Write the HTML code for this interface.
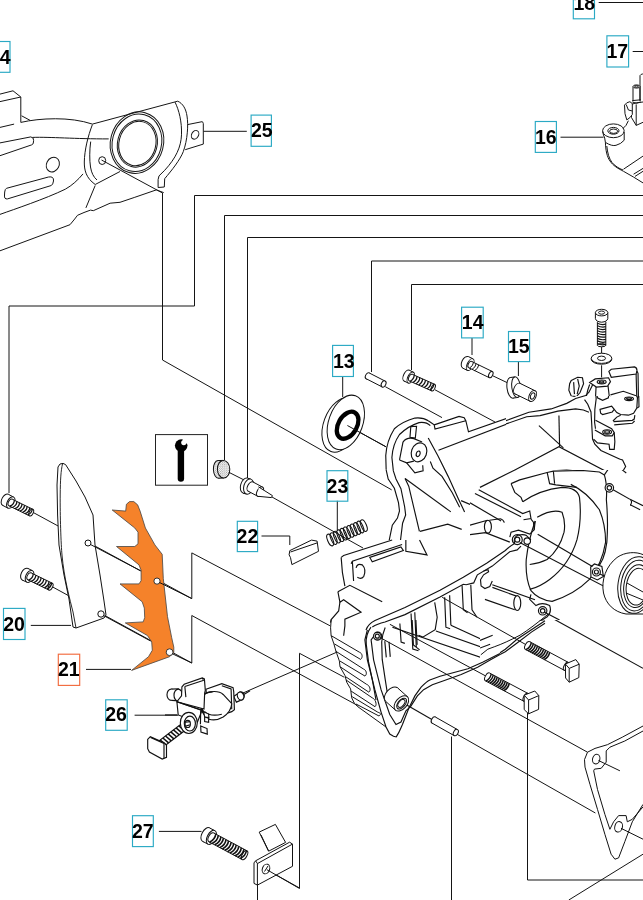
<!DOCTYPE html>
<html><head><meta charset="utf-8">
<style>
html,body{margin:0;padding:0;background:#fff;width:643px;height:900px;overflow:hidden}
svg{display:block;position:absolute;left:0;top:0}
.l{fill:none;stroke:#151515;stroke-width:1}
.t{font-family:"Liberation Sans",sans-serif;font-weight:bold;font-size:19.5px;fill:#000}
.bx{fill:none;stroke:#2aa9c4;stroke-width:1.15}
.bo{fill:none;stroke:#f26b3e;stroke-width:1.15}
.p{fill:#fff;stroke:#111;stroke-width:1;vector-effect:non-scaling-stroke}
.q{fill:none;stroke:#111;stroke-width:1.15}
.q *{vector-effect:non-scaling-stroke}
</style></head>
<body>
<svg width="643" height="900" viewBox="0 0 643 900">
<rect width="643" height="900" fill="#fff"/>
<defs>
 <pattern id="knurl" width="2.2" height="2.2" patternUnits="userSpaceOnUse"><rect width="2.2" height="2.2" fill="#fff"/><circle cx="0.6" cy="0.6" r="0.5" fill="#555"/><circle cx="1.7" cy="1.7" r="0.45" fill="#777"/></pattern>
 <clipPath id="cG1"><rect x="300" y="370" width="80" height="170"/></clipPath>
 <clipPath id="cG4"><rect x="480" y="620" width="163" height="60"/><rect x="630" y="533" width="13" height="87"/></clipPath>
 <clipPath id="cK"><rect x="470" y="470" width="160" height="150"/></clipPath>
 <clipPath id="cBR"><rect x="560" y="355" width="83" height="41"/></clipPath>
 <clipPath id="cBR2"><rect x="560" y="396" width="83" height="79"/></clipPath>
 <clipPath id="cJ"><rect x="340" y="555" width="140" height="145"/></clipPath>
 <clipPath id="cH1"><rect x="380" y="370" width="90" height="170"/><rect x="470" y="370" width="36" height="100"/></clipPath>
 <clipPath id="cH2"><rect x="506" y="360" width="137" height="110"/><rect x="630" y="470" width="13" height="63"/></clipPath>
</defs>


<!-- ============ LEADER LINES (global) ============ -->
<g class="l" id="leaders">
  <path d="M9,493V306H194.5V195.5H643"/>
  <path d="M224.5,460V215.5H643"/>
  <path d="M247.5,478V237.5H643"/>
  <path d="M371.5,372V261H643"/>
  <path d="M411.5,370V284.5H643"/>
  <path d="M101.5,160L162.5,193V360L393,490.6"/>
  <path d="M31.6,511.6L191.8,598.6V552.9L331.4,626.5"/>
  <path d="M51.6,586.4L191.8,663V615.5L358.4,705.9"/>
  <path d="M243,693L377.2,634.6"/>
  <path d="M266.6,869.6L299.5,888V653.3L400,707"/>
  <path d="M432,720L595.4,813"/>
  <path d="M228.3,472L243.3,479.6M272,497L363,548"/>
  <path d="M347.4,425.5L386.9,447.3"/>
  <path d="M385.3,386.7L442,417.6"/>
  <path d="M435,389.8L495,422"/>
  <path d="M492.8,375.8L507.5,382.8"/>
  <!-- label leaders -->
  <path d="M203.5,131.3H246.8"/>
  <path d="M598.7,2.5H643"/>
  <path d="M632.7,51.5H643"/>
  <path d="M560.5,137.2H603.5"/>
  <path d="M472,338V355"/>
  <path d="M518.4,362V376"/>
  <path d="M342.7,376.4V397"/>
  <path d="M337.3,500.8V530"/>
  <path d="M261.5,536H289.8V545"/>
  <path d="M30.8,625.4H71"/>
  <path d="M86,669.4H131"/>
  <path d="M134.6,715.2H178.2"/>
  <path d="M158.9,831.4H201.5"/>
  <path d="M527.5,713V880H643"/>
  <path d="M451.5,736.5V900"/>
  <path d="M568.8,900L643,854.2"/>
  <path d="M257.5,884.6V900"/>
</g>

<!-- ============ PART 24/25 plate ============ -->
<g class="l" id="p24">
  <path d="M0,94.1L13,90.8L20.8,97L0,101.6M20.8,97V122.4M21.6,115.8L30,120.3M0,127.4L14.1,124.1"/>
  <path d="M20.8,122.4C40,118 70,116.5 92.4,124.1L177.7,101.2"/>
  <path d="M32.5,137.4C50,136.8 75,139 108.7,138.9"/>
  <path d="M0,142.9L30.8,136.9Q34,137.5 33.6,140.5L33.3,143Q33,144.5 31.6,144.9L0,155.7"/>
  <ellipse cx="52.8" cy="164.6" rx="6.3" ry="7.6" transform="rotate(28 52.8 164.6)"/>
  <path d="M6.5,188.3L48.5,177Q54,176 53.5,181Q53,184.5 51.3,185.5L7.5,198.9Q4,199.5 4.5,195L4.7,192Q5,189 6.5,188.3Z"/>
  <path d="M0,214.4C15,209 45,199 65.3,189.2C72,185.5 78,180 83,173.9"/>
  <path d="M92.4,124.6C88,136 84.5,150 84.3,162C84.2,170 86,178 95.2,184.5"/>
  <path d="M90.7,141.6C89.5,150 89.4,160 90.5,167C91.5,173 93.5,177 97,180"/>
  <path d="M95.2,184.5L120,171.5M95.2,185.5L85.9,207.9"/>
  <path d="M0,250.8L70,224.7L74.7,219L77.5,215.3L84,212.5L90.5,210.1L93.3,210.7L110.1,203.2L120,202.3L134.8,197.3L156.3,189.9L163.7,192.6"/>
  <path d="M177.7,101.2C183,103.5 186,109 187,116C188.5,125 187.5,140 183.3,151.6C180,160 172,170 164.7,178.7L164.3,187L158.1,187.5L158.1,179.6"/>
  <path d="M175,102.1C179,110 182,122 181.5,134.8C181,147 176,158 164.7,170.3L159,175.9L158.1,179.6"/>
  <path d="M188,124.5L202,121.7Q203.3,122 203.3,123.6L203.3,144.1L185.2,149.7"/>
  <ellipse cx="195.1" cy="134.8" rx="3.4" ry="4.6" transform="rotate(30 195.1 134.8)"/>
  <g transform="rotate(15 137 142.6)">
    <ellipse cx="137" cy="142.6" rx="26.5" ry="31"/>
    <ellipse cx="137" cy="142.8" rx="24.6" ry="29"/>
    <ellipse cx="137.6" cy="143.4" rx="19.8" ry="23.8"/>
    <ellipse cx="137.6" cy="143.4" rx="18.4" ry="22.4"/>
  </g>
  <ellipse cx="102.2" cy="160.6" rx="3.5" ry="3.9"/>
</g>

<!-- ============ PART 16/17 top right ============ -->
<g class="l" id="p16">
  <path d="M640,101V75.6Q641,74 642.5,74L643,74"/>
  <path d="M633,86.5V101.2M640,86.5V100.5" />
  <ellipse cx="636.5" cy="86.5" rx="3.4" ry="1.6" fill="#fff"/>
  <ellipse cx="636.5" cy="86.4" rx="1.6" ry="0.8"/>
  <path d="M632.3,100.6L640.8,99.8M632.3,102Q636.5,104.6 640.8,102"/>
  <path d="M631.5,104.4L636.2,102.8L643,102M631.5,104.4V117.6L636.2,125.4L643,122.3M636.2,104.4V125.4"/>
  <path d="M624.5,105.1L626.8,102.8L629.9,101.7L632.3,103.6L632.3,114.5L629.9,117.6L626.8,119.9L625,113.7Z" fill="#fff"/>
  <path d="M626.2,104.5L628.4,110L632.3,111"/>
  <path d="M622.9,128.5L626,125.4L628.4,120.7"/>
  <ellipse cx="613.4" cy="130.8" rx="10.8" ry="6.9"/>
  <ellipse cx="613.4" cy="130.8" rx="5.6" ry="3.4"/>
  <ellipse cx="613.6" cy="131.2" rx="4" ry="2.2"/>
  <path d="M602.6,131.5L603.5,135L604.7,138.1L605.4,142.4Q612,146.5 616,145.3Q621,144 624.2,140.2L624.2,132"/>
  <path d="M605.4,142.4C605.6,150 607,157 610,161C613,165.5 617,168 623.5,171.3L633.6,177.1L643,182.9"/>
  <path d="M606.8,146C607.5,153 609,158.5 612,162.5C615,166 619,168.5 623,170"/>
  <path d="M623.5,169.2L643,156.1M633.6,174.2L643,168.4M635,176.4L643,171.3"/>
</g>

<!-- ============ SEAL 13 ============ -->
<g id="p13" stroke="#111" stroke-width="1" fill="#fff">
  <ellipse cx="340.6" cy="425" rx="17" ry="28.3" transform="rotate(20 340.6 425)"/>
  <ellipse cx="345.8" cy="422.4" rx="17" ry="28.3" transform="rotate(20 345.8 422.4)"/>
  <ellipse cx="347.6" cy="425.2" rx="9.3" ry="14.6" transform="rotate(30 347.6 425.2)" fill="none" stroke="#000" stroke-width="4.3"/>
  <path d="M347.4,425.5L386.9,447.3" fill="none"/>
</g>

<!-- ============ CRANKCASE SILHOUETTE ============ -->
<path id="sil" fill="#fff" stroke="none" d="M386.7,462L386,445L390,432L398,424L408,418.5L420,416L428,416.5L433,422L434.5,429L448,417.5L453,415.2L464,417L466.3,420.2L468.6,433L483,426.7L524,412.2L567.6,404.8L581.3,397.3L581.3,380L590,375L600,372L600,380L610,400L622,461L624,473L611.5,490.7L606,510L601,561L591,581L556,606L546,616L531,631L500,652.3L479.3,664.8L464.4,671L444.5,677.2L429.6,683.4L419.6,692.2L412.2,705.8L405.9,722L399.7,734.5L393.5,735.7L389.8,734L386,727L358,706L352.3,700L349.9,689.3L344.9,679.3L339.9,664.4L334.9,644.5L331.2,634.6L329.9,625.8L331.2,619.5L338.7,610.9L339.9,602.1L337.9,591.7L344.9,586L341.1,557.4L343.6,555.4L392.2,540L394.6,540L392.5,494.5Z"/>

<!-- ============ CRANKCASE G1 (320,380) 4x ============ -->
<g clip-path="url(#cG1)"><g transform="translate(320,380) scale(0.248834)">
 <g class="q">
  <path d="M300,643C305,580 312,520 300,460C290,420 270,380 268,330C266,280 268,240 285,205C305,175 340,158 375,148C400,144 425,146 440,160L452,180L460,199"/>
  <path d="M452,178L520,150Q545,140 575,146L590,160L598,215L643,198"/>
  <path d="M460,199L566,158L590,160"/>
  <path d="M478,283L643,224"/>
  <path d="M297,374C292,340 294,290 304,249C315,220 340,198 354,193C370,185 400,177 422,177L435,187"/>
  <path d="M392,257L345,240Q325,240 322,262L320,320Q322,340 345,345L385,330"/>
  <ellipse cx="399" cy="293" rx="28" ry="37" transform="rotate(20 399 293)" fill="#fff"/>
  <ellipse cx="399" cy="293" rx="7" ry="11" transform="rotate(20 399 293)"/>
  <path d="M429,234L479,330L535,424L572,482L610,545L643,600"/>
  <path d="M435,262L480,345L530,440L575,520L615,590L640,643"/>
  <path d="M345,395L365,470L380,560L400,643"/>
  <path d="M320,390L345,395"/>
  <path d="M357,194Q368,185 385,188L383,240"/>
  <path d="M300,643L303,600"/>
 </g>
</g></g>





<!-- ============ CRANKCASE H1 (380,400) 4.871x ============ -->
<g clip-path="url(#cH1)"><g transform="translate(380,400) scale(0.2053)">
 <g class="q">
  <path d="M30,340L28,270Q32,200 70,140Q110,105 170,88Q210,84 235,101"/>
  <path d="M65,345L58,280Q62,215 95,168Q135,128 190,110Q225,105 245,125"/>
  <path d="M235,101L264,121L268,142L418,101M264,121L385,80L410,86L418,101L431,155L643,80"/>
  <path d="M285,245L643,108"/>
  <path d="M30,340L40,385L70,430L90,500L95,540L85,575L60,610L45,682"/>
  <path d="M65,345L78,385L102,432L120,520L125,560L110,600L100,682"/>
  <path d="M150,130L178,128L172,186L146,182Z"/>
  <path d="M95,292L112,205Q130,180 165,188L205,205"/>
  <path d="M95,292L130,306L165,298"/>
  <path d="M130,306L170,355L210,345L208,318"/>
  <ellipse cx="190" cy="255" rx="37" ry="47" transform="rotate(20 190 255)" fill="#fff"/>
  <ellipse cx="186" cy="262" rx="9" ry="14" transform="rotate(20 186 262)"/>
  <path d="M235,185L282,272L332,372L382,482L412,545"/>
  <path d="M245,300L258,332L302,372L352,452L388,522"/>
  <path d="M122,382L345,545"/>
  <path d="M122,382L140,420L192,640"/>
  <path d="M195,640L330,605L398,630"/>
  <path d="M395,490L560,560L643,595"/>
  <path d="M460,458L643,345"/>
  <path d="M485,430L643,345"/>
  <path d="M470,462L600,520L643,532"/>
  <path d="M520,640L545,592L590,580L643,600"/>
  <path d="M540,600Q560,640 540,682"/>
 </g>
</g></g>

<!-- ============ CRANKCASE H2 (500,370) 4.4965x ============ -->
<g clip-path="url(#cH2)"><g transform="translate(500,370) scale(0.2224)">
 <g class="q">
  <path d="M0,238L130,190L230,175L300,150L340,128L385,115L400,100L415,70L420,50"/>
  <path d="M0,252L120,210L180,205L260,185L340,175L375,180L400,190"/>
  <path d="M265,205L268,345"/>
  <path d="M175,250L285,350"/>
  <path d="M0,485L265,345L475,455L490,477L554,452L565,434L551,405L540,401"/>
  <path d="M45,520L110,480L210,455L300,450L440,462L445,525"/>
  <path d="M210,455L222,502L245,520M245,455L245,512"/>
  <path d="M45,520L60,545L100,560L110,600L100,640"/>
  <path d="M0,600L130,640L140,662L100,672"/>
  <path d="M245,520Q310,515 335,530"/>
  <path d="M420,500Q465,560 480,640L485,764"/>
  <path d="M320,520Q352,580 360,650L355,764"/>
  <path d="M310,520Q250,510 150,550L100,580"/>
  <path d="M170,640Q230,615 280,640Q295,690 280,764"/>
  <circle cx="490" cy="530" r="19" fill="#fff"/>
  <circle cx="490" cy="530" r="10"/>
  <path d="M505,540L580,585"/>
  <path d="M582,580L643,610M570,598L630,628"/>
  <ellipse cx="578" cy="598" rx="12" ry="17" transform="rotate(30 578 598)" fill="#fff"/>
 </g>
</g></g>

<!-- ============ BRACKET (top right) ============ -->
<g clip-path="url(#cBR)"><g transform="translate(540,290) scale(0.160179)">
 <g class="q">
  <path d="M430,508L445,495L590,480Q607,485 605,505L600,525L445,545Z" fill="#fff"/>
  <path d="M600,525L605,700M605,505L612,520L615,700"/>
  <path d="M310,578L345,555L428,548L440,572L422,600L352,606Z" fill="#fff"/>
  <ellipse cx="385" cy="574" rx="28" ry="12" fill="#fff"/>
  <ellipse cx="385" cy="574" rx="15" ry="6"/>
  <path d="M350,606L345,700M425,600L432,660L440,700M310,590Q290,640 285,700"/>
  <path d="M195,565L235,545L265,548L272,585L250,640L228,665L195,662L180,625L185,585Z" fill="#fff"/>
  <path d="M210,575L215,650M235,555L245,600L232,650"/>
  <path d="M440,655L520,632L600,660"/>
 </g>
</g></g>
<g clip-path="url(#cBR2)"><g transform="translate(560,390) scale(0.129082)">
 <g class="q">
  <path d="M190,75L215,110L240,170L245,250L252,380L270,420L317,468L465,536"/>
  <path d="M275,0L280,70L270,150L268,250L275,300"/>
  <path d="M275,235L400,300L420,330L405,355L350,355L270,310"/>
  <ellipse cx="365" cy="325" rx="34" ry="17"/>
  <ellipse cx="365" cy="325" rx="19" ry="9"/>
  <path d="M260,380L290,410L380,420L385,460L420,460L425,400L420,330"/>
  <path d="M385,45L500,15L590,40L600,60L595,140L570,180L530,195L470,190L440,175L420,150" fill="#fff"/>
  <ellipse cx="535" cy="68" rx="34" ry="14"/>
  <ellipse cx="535" cy="68" rx="19" ry="7"/>
  <path d="M600,60L610,40L612,130L598,140"/>
  <path d="M410,240L440,210L470,195M415,245L560,235L575,225L580,195M420,270L560,258L578,240"/>
  <path d="M310,150L400,125L420,150L405,170L330,190L315,180Z" fill="#fff"/>
  <path d="M280,0L290,60L330,80L375,60L380,0"/>
  <path d="M65,0L75,40L110,50L150,30L160,0M110,0L115,45"/>
 </g>
</g></g>

<!-- ============ CRANKCASE G3 (320,540) 4x ============ -->
<g transform="translate(320,540) scale(0.248834)">
 <g class="q">
  <path d="M85,70L95,62L290,0"/>
  <path d="M85,70L90,130L100,185"/>
  <path d="M125,95L130,85L330,18M130,85L135,165"/>
  <path d="M200,70L325,28L335,42L210,88Z"/>
  <path d="M145,112Q150,92 170,100Q187,118 176,146Q166,160 150,150"/>
  <path d="M345,0L345,45L430,60L400,0"/>
  <path d="M72,208L120,182L250,248"/>
  <path d="M72,208L80,250L95,240L165,290L100,318L100,345L95,385"/>
  <path d="M80,250L75,285L45,320L42,332"/>
  <path d="M205,350Q182,380 186,420L195,490L210,560L225,643"/>
  <path d="M262,352Q250,380 248,410L250,480L262,560L275,643"/>
  <circle cx="232" cy="386" r="16" fill="#fff"/>
  <circle cx="232" cy="386" r="8"/>
 </g>
</g>

<!-- ============ CRANKCASE J (370,560) 4.019x ============ -->
<g clip-path="url(#cJ)"><g transform="translate(370,560) scale(0.248834)">
 <g class="q">
  <path d="M120,255L125,330L140,335M165,215L172,358L195,365M180,210L186,350"/>
  <path d="M260,170L270,230L262,280L212,310L195,302"/>
  <path d="M300,150L305,270L322,276M320,142L325,262"/>
  <path d="M370,102L375,200L392,212M405,100L410,200L430,230"/>
  <path d="M90,270L465,398M265,285L480,362M325,262L505,345"/>
 </g>
</g></g>

<!-- ============ CRANKCASE K (470,460) 4.019x ============ -->
<g clip-path="url(#cK)"><g transform="translate(470,460) scale(0.248834)">
 <g class="q">
  <path d="M40,110L245,8"/>
  <path d="M35,120L212,215L240,205L245,235L215,240"/>
  <path d="M20,135L205,228"/>
  <path d="M0,172L125,245"/>
  <path d="M78,242L122,236Q135,240 138,252"/>
  <ellipse cx="72" cy="268" rx="14" ry="26" fill="#fff"/>
  <path d="M0,262L70,242M0,300L62,292L160,330"/>
  <path d="M160,310L165,290L195,282L240,298L258,280L255,250L245,238"/>
  <path d="M165,95L200,80L310,50L335,45L450,42L520,48L540,60"/>
  <path d="M165,95L180,130L205,150L212,168"/>
  <path d="M310,50L320,95L345,100M335,45L340,95M345,100L430,110"/>
  <path d="M540,60L560,30L600,18L612,40L628,52"/>
  <path d="M212,168Q280,120 370,110Q430,110 440,150Q450,240 430,320Q400,420 320,480Q280,510 240,520"/>
  <path d="M270,230Q330,195 370,210Q385,250 378,290Q360,360 310,400Q280,415 240,420"/>
  <path d="M405,98Q470,128 520,200Q545,260 545,330Q530,420 480,480Q420,540 330,568Q275,562 245,525Q222,475 226,400Q235,320 262,245"/>
  <path d="M540,60Q552,100 548,160Q556,250 550,330Q540,410 505,440"/>
  <path d="M262,245L258,280"/>
  <path d="M485,430L500,418L530,428L536,468L512,482L486,470Z" fill="#fff"/>
  <circle cx="508" cy="450" r="16" fill="#fff"/><circle cx="508" cy="450" r="8"/>
  <circle cx="560" cy="112" r="17" fill="#fff"/><circle cx="560" cy="112" r="9"/>
  <circle cx="190" cy="320" r="20" fill="#fff"/><circle cx="190" cy="320" r="10"/>
  <circle cx="230" cy="326" r="13" fill="#fff"/>
  <path d="M200,332L643,562"/>
  <path d="M272,298L492,428"/>
  <path d="M522,458L643,515"/>
  <path d="M575,120L643,158"/>
  <path d="M90,512L190,548M60,560L180,602"/>
  <ellipse cx="190" cy="575" rx="14" ry="30" fill="#fff"/>
  <path d="M245,540L240,560L265,585Q290,570 320,585Q330,610 310,630L290,643"/>
  <circle cx="292" cy="606" r="17" fill="#fff"/><circle cx="292" cy="606" r="9"/>
  <path d="M300,612L360,643"/>
 </g>
</g></g>

<!-- ============ FRAME BAR (global) ============ -->
<g id="framebar" class="l" style="stroke:#111;stroke-width:1.15">
  <path d="M366,630Q368,624 375,620.5L405,607.6L440,590.2L463.3,577.3L486.6,563.3L505.3,550.5Q510,546 514.6,543.5Q513,537 518.5,535Q524,534 526.5,535.6L530.9,540"/>
  <path d="M372.3,627Q377,624 385,622L405,614.6L440,597.1L463.3,584.3L466.2,584.7L473.7,582.9L476.8,576L477.4,574.8L492.3,566.1L509.7,551.8L517.2,549.9L521,546.2"/>
  <path d="M483.6,571L488,569.8L488.6,571.7L483.6,574.8L480.5,579.8L481.1,586L484.9,588.5L489.8,586.6L492.3,581"/>
  <path d="M492.3,584.7L535,599.7"/>
</g>

<!-- ============ CRANKCASE G4 (480,520) 3.945x ============ -->
<g clip-path="url(#cG4)"><g transform="translate(480,520) scale(0.253494)">
 <g class="q">
  <path d="M215,0L212,40Q205,60 195,75Q180,100 180,150Q182,230 210,285Q235,320 260,325Q330,310 400,260Q470,200 490,120Q500,60 498,0"/>
  <path d="M330,0Q325,70 290,120Q255,160 195,175"/>
  <path d="M390,0Q385,90 345,160Q300,220 210,255"/>
  <path d="M0,20L60,5M30,35L100,0"/>
  <path d="M120,70Q130,52 160,55Q185,60 200,75L215,55"/>
  <path d="M0,165L60,132L110,118Q125,115 140,118"/>
  <path d="M0,190L70,150L115,130"/>
  <circle cx="145" cy="85" r="19" fill="#fff"/>
  <circle cx="145" cy="85" r="10"/>
  <circle cx="183" cy="83" r="10"/>
  <path d="M0,210Q25,200 40,225Q48,255 30,268L15,268"/>
  <path d="M15,245Q30,240 28,255"/>
  <path d="M0,310L140,318L162,330L160,362L20,360"/>
  <path d="M150,318L148,358"/>
  <path d="M215,325L235,335Q275,335 285,352Q288,378 268,388L240,396Q220,388 222,365Z" fill="#fff"/>
  <circle cx="250" cy="367" r="16" fill="#fff"/>
  <circle cx="250" cy="367" r="9"/>
  <path d="M432,185Q455,170 478,178Q490,205 480,228Q465,245 445,238Q430,215 432,185Z" fill="#fff"/>
  <circle cx="456" cy="207" r="10"/>
  <path d="M95,0L455,200"/>
  <path d="M480,215L520,238"/>
  <path d="M150,92L520,285"/>
  <path d="M162,100L530,300"/>
  <path d="M262,375L643,585"/>
  <path d="M78.9,523.4L99.8,510.1L144.8,471.4L202.8,432.8L256.4,397.3"/>
  <path d="M78.9,530.3L99.8,519.5L151.5,481.3L202.8,442.2L256.4,407.1"/>
  <path d="M0,475L50,455M0,505L40,490"/>
 </g>
</g></g>

<!-- ============ FINS ============ -->
<g id="fins" class="l">
  <path d="M331.2,619.5L330.6,627.8L331.1,635.6L333.9,643.9L335.6,650L336.7,653.3L339.4,661.1L340,666.7L345,675.6L346.7,682.2L350.6,688.9L351.7,697.8L354.4,703.3L357.8,706.7L386,727"/>
  <path d="M331.1,635.6L359.4,652.2C362.4,653.2 363.1,657.4 360.6,659.4L334.4,643.9"/>
  <path d="M335.6,651.1L363.3,668.9C366.3,669.9 367.5,674.1 365,676.1L340,661.1"/>
  <path d="M340,666.7L366.7,684.4C369.7,685.4 371.4,690.2 368.9,692.2L345.6,676.7"/>
  <path d="M346.1,680L372.2,697.8C375.2,698.8 377.5,704.7 375,706.7L351.1,691.1"/>
  <path d="M352.2,696.7L377.8,712.2C380.8,713.2 381.5,714 379,716L356,704"/>
</g>

<!-- ============ CRANKCASE G5 (340,620) 4x ============ -->
<g transform="translate(340,620) scale(0.248834)">
 <g class="q">
  <path d="M110,40L100,80L110,160L140,280L165,370L185,430L200,458L215,467L226,470C240,450 245,432 251,420L276,356L301,305L326,270C340,255 350,246 361,241L402,226L514,196L573,170L619,147L643,135"/>
  <path d="M140,60L125,80L135,160L165,280L200,380L225,420L245,410L265,365L285,346L311,305L336,280L371,260L411,246L487,219L553,190L605,160L643,139"/>
  <circle cx="150" cy="65" r="15" fill="#fff"/>
  <circle cx="150" cy="65" r="8"/>
  <path d="M180,85L186,150M197,88L202,148"/>
  <path d="M290,0L295,100L320,120M305,0L310,100"/>
  <path d="M249,331L371,401"/>
 </g>
</g>

<!-- ============ RIGHT PIECE (lower right) ============ -->
<g id="rpiece" stroke="#111" stroke-width="1" fill="none">
  <path d="M379.8,637.4L587.5,752.2"/>
  <path d="M389.9,624.3L487.6,677"/>
  <path d="M442.2,597.3L527.6,645.6"/>
  <path d="M480.8,654.8L487.8,649.2L494.8,646.6Q505,643 520,635.2Q532,627.5 548,614.2"/>
  <path d="M643,726L622.3,737.2L607.4,744.7L595,748.4L587.5,752.2L584.5,759.6L585,767.1L590,784.5L597.5,809.4L604.9,834.3L611.1,854.2L614.9,859.2L618.6,857.9L624.8,841.7L632.3,821.8L643,804.4" fill="#fff"/>
  <path d="M643,731L624.8,741L609.9,747.2L606.2,750.9L606.2,762.1L601.2,768.3L594.5,769.1L593.7,770.8L597.5,789.5L604.9,814.4L609.9,829.3L613.6,821.8L618.6,815.6L626.1,815.6L627.3,821.8L632.3,819.3L643,806.9"/>
  <ellipse cx="596.2" cy="759.1" rx="3.6" ry="4.9" transform="rotate(15 596.2 759.1)"/>
  <ellipse cx="618.6" cy="826.8" rx="3.8" ry="5.3" transform="rotate(15 618.6 826.8)"/>
  <path d="M598.5,760.5L619.9,770.8M621,828.3L643,839.2"/>
</g>

<!--GEN-->
<g id="scrUL" stroke="#111" stroke-width="1">
<ellipse cx="5.4" cy="499.8" rx="3.6" ry="6.2" transform="rotate(27.4 5.4 499.8)" fill="#fff"/>
<path d="M2.5,505.3L7.9,508.1L13.7,497.1L8.3,494.3Z" fill="#fff" stroke="none"/>
<path d="M2.5,505.3L7.9,508.1M13.7,497.1L8.3,494.3" fill="none"/>
<ellipse cx="10.8" cy="502.6" rx="3.6" ry="6.2" transform="rotate(27.4 10.8 502.6)" fill="#fff"/>
<ellipse cx="10.8" cy="502.6" rx="2.4" ry="3.7" transform="rotate(26.1 10.8 502.6)" fill="#fff"/>
<path d="M9.2,505.9L29.6,515.9L32.8,509.3L12.4,499.3Z" fill="#fff" stroke="none"/>
<path d="M9.2,505.9L29.6,515.9M32.8,509.3L12.4,499.3" fill="none"/>
<ellipse cx="31.2" cy="512.6" rx="2.0" ry="3.7" transform="rotate(26.1 31.2 512.6)" fill="#fff"/>
<path d="M9.8,506.2Q14.2,504.3 14.4,500.2" fill="none" stroke="#111" stroke-width="1.3"/>
<path d="M12.3,507.5Q16.8,505.5 16.9,501.5" fill="none" stroke="#111" stroke-width="1.3"/>
<path d="M14.9,508.7Q19.3,506.8 19.5,502.7" fill="none" stroke="#111" stroke-width="1.3"/>
<path d="M17.4,510.0Q21.9,508.0 22.0,504.0" fill="none" stroke="#111" stroke-width="1.3"/>
<path d="M20.0,511.2Q24.4,509.3 24.6,505.2" fill="none" stroke="#111" stroke-width="1.3"/>
<path d="M22.5,512.5Q27.0,510.5 27.1,506.5" fill="none" stroke="#111" stroke-width="1.3"/>
<path d="M25.1,513.7Q29.5,511.8 29.7,507.7" fill="none" stroke="#111" stroke-width="1.3"/>
<path d="M27.6,515.0Q32.1,513.0 32.2,509.0" fill="none" stroke="#111" stroke-width="1.3"/>
</g>
<g id="scrLL" stroke="#111" stroke-width="1">
<ellipse cx="25.0" cy="574.2" rx="3.8" ry="6.4" transform="rotate(25.6 25.0 574.2)" fill="#fff"/>
<path d="M22.2,580.0L26.8,582.2L32.4,570.6L27.8,568.4Z" fill="#fff" stroke="none"/>
<path d="M22.2,580.0L26.8,582.2M32.4,570.6L27.8,568.4" fill="none"/>
<ellipse cx="29.6" cy="576.4" rx="3.8" ry="6.4" transform="rotate(25.6 29.6 576.4)" fill="#fff"/>
<ellipse cx="29.6" cy="576.4" rx="2.4" ry="3.8" transform="rotate(25.9 29.6 576.4)" fill="#fff"/>
<path d="M27.9,579.8L48.9,590.0L52.3,583.2L31.3,573.0Z" fill="#fff" stroke="none"/>
<path d="M27.9,579.8L48.9,590.0M52.3,583.2L31.3,573.0" fill="none"/>
<ellipse cx="50.6" cy="586.6" rx="2.0" ry="3.8" transform="rotate(25.9 50.6 586.6)" fill="#fff"/>
<path d="M28.6,580.1Q33.1,578.1 33.2,573.9" fill="none" stroke="#111" stroke-width="1.3"/>
<path d="M31.2,581.4Q35.7,579.4 35.8,575.2" fill="none" stroke="#111" stroke-width="1.3"/>
<path d="M33.9,582.7Q38.3,580.6 38.5,576.5" fill="none" stroke="#111" stroke-width="1.3"/>
<path d="M36.5,584.0Q40.9,581.9 41.1,577.8" fill="none" stroke="#111" stroke-width="1.3"/>
<path d="M39.1,585.2Q43.6,583.2 43.7,579.0" fill="none" stroke="#111" stroke-width="1.3"/>
<path d="M41.7,586.5Q46.2,584.5 46.3,580.3" fill="none" stroke="#111" stroke-width="1.3"/>
<path d="M44.4,587.8Q48.8,585.7 49.0,581.6" fill="none" stroke="#111" stroke-width="1.3"/>
<path d="M47.0,589.1Q51.4,587.0 51.6,582.9" fill="none" stroke="#111" stroke-width="1.3"/>
</g>
<g id="pinR4" stroke="#111" stroke-width="1">
<ellipse cx="367.6" cy="375.8" rx="2.0" ry="3.3" transform="rotate(27.1 367.6 375.8)" fill="#fff"/>
<path d="M366.1,378.7L382.1,386.9L385.1,381.1L369.1,372.9Z" fill="#fff" stroke="none"/>
<path d="M366.1,378.7L382.1,386.9M385.1,381.1L369.1,372.9" fill="none"/>
<ellipse cx="383.6" cy="384.0" rx="2.2" ry="3.3" transform="rotate(27.1 383.6 384.0)" fill="#fff"/>
</g>
<g id="scrR5" stroke="#111" stroke-width="1">
<ellipse cx="406.6" cy="375.6" rx="3.0" ry="6.0" transform="rotate(25.5 406.6 375.6)" fill="#fff"/>
<path d="M404.0,381.0L408.2,383.0L413.4,372.2L409.2,370.2Z" fill="#fff" stroke="none"/>
<path d="M404.0,381.0L408.2,383.0M413.4,372.2L409.2,370.2" fill="none"/>
<ellipse cx="410.8" cy="377.6" rx="3.0" ry="6.0" transform="rotate(25.5 410.8 377.6)" fill="#fff"/>
<ellipse cx="410.8" cy="377.6" rx="2.0" ry="3.6" transform="rotate(24.1 410.8 377.6)" fill="#fff"/>
<path d="M409.3,380.9L431.7,390.9L434.7,384.3L412.3,374.3Z" fill="#fff" stroke="none"/>
<path d="M409.3,380.9L431.7,390.9M434.7,384.3L412.3,374.3" fill="none"/>
<ellipse cx="433.2" cy="387.6" rx="1.8" ry="3.6" transform="rotate(24.1 433.2 387.6)" fill="#fff"/>
<path d="M410.2,381.3Q414.0,379.0 414.2,375.2" fill="none" stroke="#111" stroke-width="1.3"/>
<path d="M413.0,382.5Q416.8,380.3 417.0,376.4" fill="none" stroke="#111" stroke-width="1.3"/>
<path d="M415.8,383.8Q419.6,381.5 419.8,377.7" fill="none" stroke="#111" stroke-width="1.3"/>
<path d="M418.6,385.0Q422.4,382.8 422.6,378.9" fill="none" stroke="#111" stroke-width="1.3"/>
<path d="M421.4,386.3Q425.2,384.0 425.4,380.2" fill="none" stroke="#111" stroke-width="1.3"/>
<path d="M424.2,387.5Q428.0,385.3 428.2,381.4" fill="none" stroke="#111" stroke-width="1.3"/>
<path d="M427.0,388.8Q430.8,386.5 431.0,382.7" fill="none" stroke="#111" stroke-width="1.3"/>
<path d="M429.8,390.0Q433.6,387.8 433.8,383.9" fill="none" stroke="#111" stroke-width="1.3"/>
</g>
<g id="scr14" stroke="#111" stroke-width="1">
<ellipse cx="465.6" cy="362.4" rx="3.8" ry="6.4" transform="rotate(25.6 465.6 362.4)" fill="#fff"/>
<path d="M462.8,368.2L467.4,370.4L473.0,358.8L468.4,356.6Z" fill="#fff" stroke="none"/>
<path d="M462.8,368.2L467.4,370.4M473.0,358.8L468.4,356.6" fill="none"/>
<ellipse cx="470.2" cy="364.6" rx="3.0" ry="6.4" transform="rotate(25.6 470.2 364.6)" fill="#fff"/>
<ellipse cx="470.2" cy="364.6" rx="2.0" ry="3.4" transform="rotate(25.9 470.2 364.6)" fill="#fff"/>
<path d="M468.7,367.7L489.3,377.7L492.3,371.5L471.7,361.5Z" fill="#fff" stroke="none"/>
<path d="M468.7,367.7L489.3,377.7M492.3,371.5L471.7,361.5" fill="none"/>
<ellipse cx="490.8" cy="374.6" rx="1.9" ry="3.4" transform="rotate(25.9 490.8 374.6)" fill="#fff"/>
<path d="M469.5,368.1Q473.1,366.0 473.5,362.4" fill="none" stroke="#111" stroke-width="1.0"/>
<path d="M472.1,369.3Q475.7,367.3 476.1,363.7" fill="none" stroke="#111" stroke-width="1.0"/>
<path d="M474.7,370.6Q478.3,368.6 478.7,364.9" fill="none" stroke="#111" stroke-width="1.0"/>
</g>
<g id="bush15" stroke="#111" stroke-width="1">
<ellipse cx="511.6" cy="387.8" rx="4.6" ry="10.4" transform="rotate(-7.4 511.6 387.8)" fill="#fff"/>
<path d="M512.9,398.1L517.5,397.5L514.9,376.9L510.3,377.5Z" fill="#fff" stroke="none"/>
<path d="M512.9,398.1L517.5,397.5M514.9,376.9L510.3,377.5" fill="none"/>
<ellipse cx="516.2" cy="387.2" rx="4.4" ry="10.4" transform="rotate(-7.4 516.2 387.2)" fill="#fff"/>
<ellipse cx="517.5" cy="388.6" rx="3.4" ry="5.8" transform="rotate(26.1 517.5 388.6)" fill="#fff"/>
<path d="M514.9,393.8L530.0,401.2L535.2,390.8L520.1,383.4Z" fill="#fff" stroke="none"/>
<path d="M514.9,393.8L530.0,401.2M535.2,390.8L520.1,383.4" fill="none"/>
<ellipse cx="532.6" cy="396.0" rx="3.4" ry="5.8" transform="rotate(26.1 532.6 396.0)" fill="#fff"/>
<ellipse cx="532.6" cy="396.0" rx="2.0" ry="3.3" transform="rotate(26 532.6 396)" fill="none"/>
</g>
<g id="nut" stroke="#111" stroke-width="1">
<ellipse cx="218.2" cy="469.4" rx="4.8" ry="8.8" transform="rotate(-2.1 218.2 469.4)" fill="url(#knurl)"/>
<path d="M218.5,478.2L223.9,478.0L223.3,460.4L217.9,460.6Z" fill="url(#knurl)" stroke="none"/>
<path d="M218.5,478.2L223.9,478.0M223.3,460.4L217.9,460.6" fill="none"/>
<ellipse cx="223.6" cy="469.2" rx="6.2" ry="8.8" transform="rotate(-2.1 223.6 469.2)" fill="url(#knurl)"/>
</g>
<g id="taper" stroke="#111" stroke-width="1">
<ellipse cx="245.2" cy="485.6" rx="4.6" ry="7.8" transform="rotate(16.4 245.2 485.6)" fill="#fff"/>
<path d="M243.0,493.1L246.4,494.1L250.8,479.1L247.4,478.1Z" fill="#fff" stroke="none"/>
<path d="M243.0,493.1L246.4,494.1M250.8,479.1L247.4,478.1" fill="none"/>
<ellipse cx="248.6" cy="486.6" rx="4.8" ry="7.8" transform="rotate(16.4 248.6 486.6)" fill="#fff"/>
<ellipse cx="250.6" cy="486.6" rx="3.0" ry="5.2" transform="rotate(28.0 250.6 486.6)" fill="#fff"/>
<path d="M248.2,491.2L257.6,496.2L262.4,487.0L253.0,482.0Z" fill="#fff" stroke="none"/>
<path d="M248.2,491.2L257.6,496.2M262.4,487.0L253.0,482.0" fill="none"/>
<ellipse cx="260.0" cy="491.6" rx="2.8" ry="5.2" transform="rotate(28.0 260.0 491.6)" fill="#fff"/>
<path d="M258.4,486.8L272.4,495.6L271.4,497.6L259.0,496.4" fill="#fff"/>
</g>
<g id="spring" stroke="#111" stroke-width="1">
<ellipse cx="330.2" cy="540.0" rx="2.6" ry="6.2" transform="rotate(-23.2 330.2 540.0)" fill="none" stroke-width="1.1"/>
<ellipse cx="333.6" cy="538.6" rx="2.6" ry="6.2" transform="rotate(-23.2 333.6 538.6)" fill="none" stroke-width="1.1"/>
<ellipse cx="336.9" cy="537.1" rx="2.6" ry="6.2" transform="rotate(-23.2 336.9 537.1)" fill="none" stroke-width="1.1"/>
<ellipse cx="340.3" cy="535.7" rx="2.6" ry="6.2" transform="rotate(-23.2 340.3 535.7)" fill="none" stroke-width="1.1"/>
<ellipse cx="343.6" cy="534.2" rx="2.6" ry="6.2" transform="rotate(-23.2 343.6 534.2)" fill="none" stroke-width="1.1"/>
<ellipse cx="347.0" cy="532.8" rx="2.6" ry="6.2" transform="rotate(-23.2 347.0 532.8)" fill="none" stroke-width="1.1"/>
<ellipse cx="350.4" cy="531.4" rx="2.6" ry="6.2" transform="rotate(-23.2 350.4 531.4)" fill="none" stroke-width="1.1"/>
<ellipse cx="353.7" cy="529.9" rx="2.6" ry="6.2" transform="rotate(-23.2 353.7 529.9)" fill="none" stroke-width="1.1"/>
<ellipse cx="357.1" cy="528.5" rx="2.6" ry="6.2" transform="rotate(-23.2 357.1 528.5)" fill="none" stroke-width="1.1"/>
<ellipse cx="360.4" cy="527.0" rx="2.6" ry="6.2" transform="rotate(-23.2 360.4 527.0)" fill="none" stroke-width="1.1"/>
<ellipse cx="363.8" cy="525.6" rx="2.6" ry="6.2" transform="rotate(-23.2 363.8 525.6)" fill="none" stroke-width="1.1"/>
</g>
<g id="key22" stroke="#111" stroke-width="1">
<path d="M289.8,550.6L311.5,540.1L317.1,541.1L318.5,551.3L291.9,564.6L290.5,557.6L289.1,554.8Z" fill="#fff"/><path d="M290.5,552L317.1,542.9" fill="none"/>
</g>
<g id="scr27" stroke="#111" stroke-width="1">
<ellipse cx="206.0" cy="834.6" rx="4.2" ry="7.6" transform="rotate(27.4 206.0 834.6)" fill="#fff"/>
<path d="M202.5,841.3L207.9,844.1L214.9,830.7L209.5,827.9Z" fill="#fff" stroke="none"/>
<path d="M202.5,841.3L207.9,844.1M214.9,830.7L209.5,827.9" fill="none"/>
<ellipse cx="211.4" cy="837.4" rx="4.2" ry="7.6" transform="rotate(27.4 211.4 837.4)" fill="#fff"/>
<ellipse cx="211.4" cy="837.4" rx="2.8" ry="5.0" transform="rotate(28.2 211.4 837.4)" fill="#fff"/>
<path d="M209.0,841.8L242.2,859.6L247.0,850.8L213.8,833.0Z" fill="#fff" stroke="none"/>
<path d="M209.0,841.8L242.2,859.6M247.0,850.8L213.8,833.0" fill="none"/>
<ellipse cx="244.6" cy="855.2" rx="2.4" ry="5.0" transform="rotate(28.2 244.6 855.2)" fill="#fff"/>
<path d="M209.6,842.1Q215.1,839.4 215.8,834.1" fill="none" stroke="#111" stroke-width="1.6"/>
<path d="M212.1,843.5Q217.7,840.8 218.3,835.4" fill="none" stroke="#111" stroke-width="1.6"/>
<path d="M214.7,844.8Q220.3,842.1 220.9,836.8" fill="none" stroke="#111" stroke-width="1.6"/>
<path d="M217.2,846.2Q222.8,843.5 223.4,838.2" fill="none" stroke="#111" stroke-width="1.6"/>
<path d="M219.8,847.6Q225.4,844.9 226.0,839.6" fill="none" stroke="#111" stroke-width="1.6"/>
<path d="M222.3,848.9Q227.9,846.3 228.5,840.9" fill="none" stroke="#111" stroke-width="1.6"/>
<path d="M224.9,850.3Q230.5,847.6 231.1,842.3" fill="none" stroke="#111" stroke-width="1.6"/>
<path d="M227.5,851.7Q233.0,849.0 233.7,843.7" fill="none" stroke="#111" stroke-width="1.6"/>
<path d="M230.0,853.0Q235.6,850.4 236.2,845.0" fill="none" stroke="#111" stroke-width="1.6"/>
<path d="M232.6,854.4Q238.1,851.7 238.8,846.4" fill="none" stroke="#111" stroke-width="1.6"/>
<path d="M235.1,855.8Q240.7,853.1 241.3,847.8" fill="none" stroke="#111" stroke-width="1.6"/>
<path d="M237.7,857.2Q243.2,854.5 243.9,849.1" fill="none" stroke="#111" stroke-width="1.6"/>
<path d="M240.2,858.5Q245.8,855.8 246.4,850.5" fill="none" stroke="#111" stroke-width="1.6"/>
</g>
<g id="brk27" stroke="#111" stroke-width="1">
<path d="M259.2,832.1L275.4,824.4L285.6,842.4L268.6,851.2Z" fill="#fff"/><path d="M261,835L268.6,851" fill="none"/><path d="M254,862.9L255.6,860.8L289.6,842.2L292.5,844.1L292.5,866.3L257.4,885.1L254,883.4Z" fill="#fff"/><path d="M255.6,860.8L257.4,863.6L292.5,844.1M257.4,863.6V885.1" fill="none"/><ellipse cx="266" cy="869" rx="3.6" ry="5" transform="rotate(20 266 869)" fill="#fff"/><path d="M264.5,871.5L268,866" fill="none"/><path d="M266.9,869.7L299.7,888.6" fill="none"/>
</g>
<g id="scrLR1" stroke="#111" stroke-width="1">
<ellipse cx="527.6" cy="645.6" rx="2.4" ry="4.4" transform="rotate(28.2 527.6 645.6)" fill="#fff"/>
<path d="M525.5,649.5L564.3,670.3L568.5,662.5L529.7,641.7Z" fill="#fff" stroke="none"/>
<path d="M525.5,649.5L564.3,670.3M568.5,662.5L529.7,641.7" fill="none"/>
<ellipse cx="566.4" cy="666.4" rx="2.4" ry="4.4" transform="rotate(28.2 566.4 666.4)" fill="#fff"/>
<path d="M526.0,649.7Q530.6,647.2 531.3,642.6" fill="none" stroke="#111" stroke-width="1.5"/>
<path d="M528.0,650.8Q532.6,648.3 533.3,643.7" fill="none" stroke="#111" stroke-width="1.5"/>
<path d="M530.0,651.9Q534.6,649.4 535.4,644.8" fill="none" stroke="#111" stroke-width="1.5"/>
<path d="M532.1,653.0Q536.7,650.5 537.4,645.8" fill="none" stroke="#111" stroke-width="1.5"/>
<path d="M534.1,654.1Q538.7,651.5 539.4,646.9" fill="none" stroke="#111" stroke-width="1.5"/>
<path d="M536.2,655.2Q540.8,652.6 541.5,648.0" fill="none" stroke="#111" stroke-width="1.5"/>
<path d="M538.2,656.3Q542.8,653.7 543.5,649.1" fill="none" stroke="#111" stroke-width="1.5"/>
<path d="M540.2,657.3Q544.8,654.8 545.6,650.2" fill="none" stroke="#111" stroke-width="1.5"/>
<path d="M542.3,658.4Q546.9,655.9 547.6,651.3" fill="none" stroke="#111" stroke-width="1.5"/>
<path d="M544.3,659.5Q548.9,657.0 549.6,652.4" fill="none" stroke="#111" stroke-width="1.5"/>
</g>
<g id="scrLR1h" stroke="#111" stroke-width="1">
<path d="M565.4,664L575.8,659.6L579.2,664.2L578.8,677.6L569.2,682.2L565.6,678Z" fill="#fff"/><path d="M569.2,668.4L579.2,664.2M569.2,668.4V682.2M569.2,668.4L565.4,664" fill="none"/>
</g>
<g id="scrLR2" stroke="#111" stroke-width="1">
<ellipse cx="487.6" cy="677.0" rx="2.4" ry="4.4" transform="rotate(28.0 487.6 677.0)" fill="#fff"/>
<path d="M485.5,680.9L523.9,701.3L528.1,693.5L489.7,673.1Z" fill="#fff" stroke="none"/>
<path d="M485.5,680.9L523.9,701.3M528.1,693.5L489.7,673.1" fill="none"/>
<ellipse cx="526.0" cy="697.4" rx="2.4" ry="4.4" transform="rotate(28.0 526.0 697.4)" fill="#fff"/>
<path d="M485.9,681.1Q490.5,678.6 491.2,674.0" fill="none" stroke="#111" stroke-width="1.5"/>
<path d="M487.9,682.2Q492.5,679.6 493.2,675.0" fill="none" stroke="#111" stroke-width="1.5"/>
<path d="M489.9,683.2Q494.5,680.7 495.2,676.1" fill="none" stroke="#111" stroke-width="1.5"/>
<path d="M491.9,684.3Q496.5,681.7 497.2,677.1" fill="none" stroke="#111" stroke-width="1.5"/>
<path d="M493.9,685.3Q498.5,682.8 499.2,678.2" fill="none" stroke="#111" stroke-width="1.5"/>
<path d="M495.9,686.4Q500.5,683.9 501.2,679.3" fill="none" stroke="#111" stroke-width="1.5"/>
<path d="M497.9,687.5Q502.5,684.9 503.2,680.3" fill="none" stroke="#111" stroke-width="1.5"/>
<path d="M499.9,688.5Q504.5,686.0 505.2,681.4" fill="none" stroke="#111" stroke-width="1.5"/>
<path d="M501.9,689.6Q506.5,687.0 507.2,682.4" fill="none" stroke="#111" stroke-width="1.5"/>
<path d="M503.9,690.6Q508.4,688.1 509.2,683.5" fill="none" stroke="#111" stroke-width="1.5"/>
</g>
<g id="scrLR2h" stroke="#111" stroke-width="1">
<path d="M524.2,695.2L534.8,691L538.8,695.6L538.6,709.4L528.6,713.8L524.2,709.6Z" fill="#fff"/><path d="M528.6,700L538.8,695.6M528.6,700V713.8M528.6,700L524.2,695.2" fill="none"/>
</g>
<g id="pinLow" stroke="#111" stroke-width="1">
<ellipse cx="433.6" cy="720.0" rx="2.0" ry="3.4" transform="rotate(29.6 433.6 720.0)" fill="#fff"/>
<path d="M431.9,723.0L454.1,735.6L457.5,729.6L435.3,717.0Z" fill="#fff" stroke="none"/>
<path d="M431.9,723.0L454.1,735.6M457.5,729.6L435.3,717.0" fill="none"/>
<ellipse cx="455.8" cy="732.6" rx="2.2" ry="3.4" transform="rotate(29.6 455.8 732.6)" fill="#fff"/>
</g>
<g id="vscr" stroke="#111" stroke-width="1">
<path d="M601.6,345.7V353.2M601.6,365.3V377.4" fill="none"/><ellipse cx="601.6" cy="322.4" rx="1.6" ry="4.2" transform="rotate(90.0 601.6 322.4)" fill="#fff"/>
<path d="M597.4,322.4L597.4,345.2L605.8,345.2L605.8,322.4Z" fill="#fff" stroke="none"/>
<path d="M597.4,322.4L597.4,345.2M605.8,345.2L605.8,322.4" fill="none"/>
<ellipse cx="601.6" cy="345.2" rx="1.6" ry="4.2" transform="rotate(90.0 601.6 345.2)" fill="#fff"/><path d="M597.4,323.2Q601.6,325.3 605.8,324.1" fill="none" stroke="#111" stroke-width="1.2"/>
<path d="M597.4,325.7Q601.6,327.8 605.8,326.7" fill="none" stroke="#111" stroke-width="1.2"/>
<path d="M597.4,328.3Q601.6,330.3 605.8,329.2" fill="none" stroke="#111" stroke-width="1.2"/>
<path d="M597.4,330.8Q601.6,332.9 605.8,331.7" fill="none" stroke="#111" stroke-width="1.2"/>
<path d="M597.4,333.3Q601.6,335.4 605.8,334.3" fill="none" stroke="#111" stroke-width="1.2"/>
<path d="M597.4,335.9Q601.6,337.9 605.8,336.8" fill="none" stroke="#111" stroke-width="1.2"/>
<path d="M597.4,338.4Q601.6,340.5 605.8,339.3" fill="none" stroke="#111" stroke-width="1.2"/>
<path d="M597.4,340.9Q601.6,343.0 605.8,341.9" fill="none" stroke="#111" stroke-width="1.2"/>
<path d="M597.4,343.5Q601.6,345.5 605.8,344.4" fill="none" stroke="#111" stroke-width="1.2"/><path d="M595.4,312.6V318.5Q596,321.8 601.6,322.2Q607.2,321.8 607.8,318.5V312.6" fill="#fff"/><ellipse cx="601.6" cy="312.6" rx="6.2" ry="3.3" fill="#fff"/><ellipse cx="601.6" cy="312.6" rx="3" ry="1.6" fill="none"/><ellipse cx="601.5" cy="359.1" rx="10.3" ry="5.1" fill="#fff"/><ellipse cx="601.5" cy="358.3" rx="10.3" ry="5.1" fill="#fff"/><ellipse cx="601.5" cy="358.3" rx="4" ry="2.2" fill="none"/>
</g>
<g id="bossLow" stroke="#111" stroke-width="1">
<ellipse cx="391.5" cy="694.5" rx="5.4" ry="9.0" transform="rotate(42.0 391.5 694.5)" fill="#fff"/>
<path d="M385.5,701.2L395.4,710.1L407.4,696.7L397.5,687.8Z" fill="#fff" stroke="none"/>
<path d="M385.5,701.2L395.4,710.1M407.4,696.7L397.5,687.8" fill="none"/>
<ellipse cx="401.4" cy="703.4" rx="5.6" ry="9.0" transform="rotate(42.0 401.4 703.4)" fill="#fff"/><ellipse cx="401.6" cy="703.6" rx="3.6" ry="6.4" transform="rotate(40 401.6 703.6)" fill="none"/><ellipse cx="401.4" cy="703.4" rx="2.6" ry="4.6" transform="rotate(40 401.4 703.4)" fill="none"/>
</g>
<!--/GEN-->

<!-- ============ PLATE 20 ============ -->
<g id="p20" stroke="#111" stroke-width="1">
  <path d="M60,464L63,463.4L65.6,464.6L76,481L85,497L93,515L95,545L100,575L104,601L106,615L104,618L76,628L73,627L69,599L64,575L59,545L57.6,515L57,485L58,467Z" fill="#fff"/>
  <path d="M62.5,464C61,470 60.3,480 60.2,495C60,515 61,545 62,555C64,578 70,600 73,612L76,628" fill="none" stroke-width="0.9"/>
  <circle cx="88" cy="543" r="3" fill="#fff"/>
  <circle cx="101" cy="614" r="3.2" fill="#fff"/>
  <path d="M90.5,544.5L140,570.5M103.5,615.5L150.6,641" fill="none"/>
</g>

<!-- ============ ORANGE 21 ============ -->
<g id="p21">
  <path d="M112.2,510L125.7,511.1L126.4,504.3L129.5,501.6L133.8,501.6L137.6,504.8L140.1,511.1L145.4,528L154.9,544.9L162.2,554.3L163.3,578.6L167.5,616.6L171.7,637.7L173.8,647.2L173.8,652.4L169.6,656.7L131.6,670.4L148.5,656.7L152.3,650.3L151.7,641.9L147.5,635.6L125.3,622.9L143.2,621.9L144.7,617.6L144.3,608.1L142.2,601.8L120,583.9L139,583.9L141.1,580.7L141.1,570.2L139,564.9L116.5,546.5L134.8,546.5L138,543.8L138,532.2L134.8,528Z" fill="#f5822a" stroke="#444" stroke-width="0.8" stroke-linejoin="round"/>
  <circle cx="157" cy="581.1" r="3.1" fill="#fff" stroke="#222" stroke-width="0.9"/>
  <circle cx="169.6" cy="652.2" r="3.4" fill="#fff" stroke="#222" stroke-width="0.9"/>
  <path d="M159.5,582.5L191.8,598.6M172.5,653.8L191.8,663" fill="none" stroke="#111"/>
</g>

<!-- ============ WRENCH ICON ============ -->
<g id="wrench">
  <rect x="155.5" y="434.6" width="52" height="50.6" fill="#fff" stroke="#222" stroke-width="1"/>
  <path d="M180.9,451V478.6" stroke="#000" stroke-width="6.4" stroke-linecap="round"/>
  <circle cx="181.2" cy="445.6" r="6.3" fill="#000"/>
  <circle cx="183.8" cy="442.6" r="2.6" fill="#fff"/>
  <path d="M182.6,441.4L183.2,437.6L190,437.6L190,444.4L186.6,443.4Z" fill="#fff"/>
</g>

<!-- ============ TENSIONER 26 (zoom 7.565 @165,672) ============ -->
<g transform="translate(165,672) scale(0.132188)">
 <g class="q">
  <path d="M0,325H92"/>
  <path d="M520,185L568,150Q600,150 600,180Q598,208 570,215L540,228Z" fill="#fff"/>
  <ellipse cx="572" cy="182" rx="24" ry="31" transform="rotate(-20 572 182)" fill="#fff"/>
  <path d="M600,168L643,142"/>
  <path d="M310,130L430,88L515,118L520,150L525,285L505,300L330,360Z" fill="#fff"/>
  <path d="M430,104L500,128L505,282"/>
  <path d="M275,215Q280,160 340,150Q410,140 440,170L505,240Q500,300 440,340Q380,375 330,355Q270,320 275,215Z" fill="#fff"/>
  <path d="M268,200Q300,150 360,150M300,300Q340,340 430,320"/>
  <path d="M275,235Q270,290 300,320" stroke-width="2"/>
  <ellipse cx="48" cy="172" rx="33" ry="43" fill="#fff"/>
  <path d="M48,129L105,127L110,215L52,215" fill="#fff" stroke="none"/>
  <path d="M48,129L105,127M52,215L108,218"/>
  <ellipse cx="100" cy="175" rx="32" ry="46" fill="#fff"/>
  <path d="M128,112L145,93L282,45L298,52L305,140L300,160L295,280L90,225L125,180Z" fill="#fff"/>
  <path d="M150,110L158,190M150,110L294,62M282,45L290,58"/>
  <path d="M90,225L100,325L245,380L280,290L90,225" fill="#fff"/>
  <path d="M90,225L275,288L292,296L300,310"/>
  <path d="M270,290L268,395"/>
  <path d="M292,300L330,318L332,345L300,340Z" fill="#fff"/>
  <path d="M300,340L330,350L330,380L300,375Z" fill="#fff"/>
  <path d="M270,408L318,428L320,470L272,455Z" fill="#fff"/>
  <path d="M163,363L-77,545L-43,589L197,407Z" fill="#fff"/>
  <path d="M144,377L188,414M124,392L168,430M104,407L147,445M84,423L127,460M64,438L107,475M44,453L87,490M24,468L67,506M4,484L47,521M-16,499L27,536M-36,514L7,551M-56,529L-13,567" stroke-width="1.5"/>
  <path d="M-130.9,509.1L-111.2,489.5L-7.6,534.8L11.3,554.5L11.3,645.3L-21.2,658.2L-118,606L-130.9,580.2Z" fill="#fff"/>
  <path d="M-109,494.7L-7.6,541.6L-7.6,652.8"/>
  <ellipse cx="180" cy="385" rx="64" ry="80" fill="#fff"/>
  <ellipse cx="188" cy="390" rx="42" ry="56"/>
  <ellipse cx="172" cy="393" rx="20" ry="27" fill="#fff"/>
  <path d="M155,380L190,375M158,408L188,400"/>
 </g>
</g>

<!-- ============ BEARING (right) ============ -->
<g id="bearing" stroke="#111" stroke-width="1">
  <path d="M643,554.6C636,551.5 625,551.8 617,557.5C606,566 601,580 603.5,593C606,604 614,612 626,614L643,614" fill="#fff"/>
  <ellipse cx="636" cy="585" rx="18" ry="28.5" transform="rotate(8 636 585)" fill="#fff"/>
  <ellipse cx="636.5" cy="585.5" rx="15.5" ry="25.5" transform="rotate(8 636 585)" fill="none"/>
  <ellipse cx="637" cy="586" rx="13" ry="21.5" transform="rotate(8 636 585)" fill="none"/>
  <ellipse cx="637.5" cy="586.5" rx="11" ry="18.5" transform="rotate(8 636 585)" fill="none"/>
  <path d="M627,583L643,592M626,593L643,600" fill="none"/>
</g>

<!-- ============ LABELS ============ -->
<g id="labels">
  <rect class="bx" x="-11.5" y="41.5" width="21.5" height="30.8"/>
  <rect class="bx" x="251.1" y="115.1" width="20.3" height="31.2"/>
  <rect class="bx" x="573.3" y="-12.5" width="21.2" height="31.3"/>
  <rect class="bx" x="606.9" y="35.8" width="21.7" height="31.2"/>
  <rect class="bx" x="535.3" y="121.5" width="21.1" height="30.9"/>
  <rect class="bx" x="461.6" y="307.2" width="21.6" height="30.7"/>
  <rect class="bx" x="508.5" y="331.5" width="21.1" height="30.1"/>
  <rect class="bx" x="332.6" y="345.4" width="20.8" height="31.1"/>
  <rect class="bx" x="327.0" y="470.7" width="20.8" height="30.5"/>
  <rect class="bx" x="237.3" y="521.3" width="20.3" height="30.3"/>
  <rect class="bx" x="3.5" y="608.4" width="21.5" height="31.1"/>
  <rect class="bo" x="58.3" y="654.2" width="21.4" height="31.2"/>
  <rect class="bx" x="105.7" y="699.8" width="21.5" height="30.5"/>
  <rect class="bx" x="132.5" y="815.7" width="20.8" height="30.9"/>
</g>
<g id="labeltext" style="filter:grayscale(1)">
  <text class="t" x="-11.2" y="63.8">24</text>
  <text class="t" x="251.0" y="136.9">25</text>
  <text class="t" x="573.4" y="10.0">18</text>
  <text class="t" x="606.4" y="58.0">17</text>
  <text class="t" x="535.0" y="143.9">16</text>
  <text class="t" x="461.8" y="329.2">14</text>
  <text class="t" x="508.0" y="352.9">15</text>
  <text class="t" x="332.9" y="367.6">13</text>
  <text class="t" x="326.6" y="492.8">23</text>
  <text class="t" x="236.6" y="543.0">22</text>
  <text class="t" x="3.2" y="630.6">20</text>
  <text class="t" x="58.0" y="676.0">21</text>
  <text class="t" x="105.2" y="721.2">26</text>
  <text class="t" x="132.0" y="837.6">27</text>
</g>

</svg>
</body></html>
